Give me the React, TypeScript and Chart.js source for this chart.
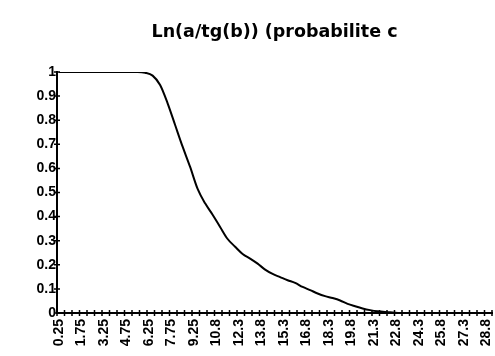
import React, { useEffect, useRef } from "react";
import { Chart, registerables } from "chart.js";

Chart.register(...registerables);

const titleText = "Ln(a/tg(b)) (probabilite c";

const xValues = [
  0.25, 5.5, 6.0, 6.5, 7.0, 7.5, 8.0, 8.5, 9.0, 9.5, 10.0, 10.5, 11.0, 11.5,
  12.0, 12.5, 13.0, 13.5, 14.0, 14.5, 15.0, 15.5, 16.0, 16.5, 17.0, 17.5, 18.0,
  18.5, 19.0, 19.5, 20.0, 20.5, 21.0, 21.5, 22.0, 22.5, 23.0, 29.0,
];
const yValues = [
  1, 1, 0.997, 0.985, 0.946, 0.87, 0.78, 0.69, 0.606, 0.515, 0.455, 0.408,
  0.357, 0.307, 0.275, 0.245, 0.226, 0.205, 0.18, 0.162, 0.149, 0.136, 0.125,
  0.108, 0.095, 0.081, 0.07, 0.062, 0.052, 0.038, 0.028, 0.019, 0.012, 0.007,
  0.004, 0.002, 0, 0,
];

const xTickValues = [
  0.25, 1.75, 3.25, 4.75, 6.25, 7.75, 9.25, 10.75, 12.25, 13.75, 15.25, 16.75,
  18.25, 19.75, 21.25, 22.75, 24.25, 25.75, 27.25, 28.75,
];
const xTickLabels = [
  "0.25", "1.75", "3.25", "4.75", "6.25", "7.75", "9.25", "10.8", "12.3",
  "13.8", "15.3", "16.8", "18.3", "19.8", "21.3", "22.8", "24.3", "25.8",
  "27.3", "28.8",
];
const yTickValues = [0, 0.1, 0.2, 0.3, 0.4, 0.5, 0.6, 0.7, 0.8, 0.9, 1];
const yTickLabels = ["0", "0.1", "0.2", "0.3", "0.4", "0.5", "0.6", "0.7", "0.8", "0.9", "1"];

const xMin = 0.125;
const xMax = 29.125;
const xMarkStep = 0.5;

const tickFont = { family: "'Liberation Sans', Arial, sans-serif", weight: "bold" as const, size: 14 };

const crossTicks = {
  id: "crossTicks",
  afterDraw(chart: any) {
    const { ctx, scales } = chart;
    const x = scales.x;
    const y = scales.y;
    const axisX = x.left;
    const axisY = y.bottom;
    ctx.save();
    ctx.strokeStyle = "#000";
    ctx.lineWidth = 1.5;
    ctx.beginPath();
    for (const v of yTickValues) {
      const py = y.getPixelForValue(v);
      ctx.moveTo(axisX - 3, py);
      ctx.lineTo(axisX + 3, py);
    }
    for (let v = xMin; v <= xMax + 1e-9; v += xMarkStep) {
      const px = x.getPixelForValue(v);
      ctx.moveTo(px, axisY - 3);
      ctx.lineTo(px, axisY + 3);
    }
    ctx.stroke();
    ctx.restore();
  },
};

export default function App() {
  const canvasRef = useRef<HTMLCanvasElement | null>(null);

  useEffect(() => {
    if (!canvasRef.current) return;
    const chart = new Chart(canvasRef.current, {
      type: "line",
      data: {
        datasets: [
          {
            data: xValues.map((x, i) => ({ x, y: yValues[i] })),
            borderColor: "#000",
            borderWidth: 2,
            pointRadius: 0,
            fill: false,
            cubicInterpolationMode: "monotone",
          },
        ],
      },
      options: {
        animation: false,
        responsive: true,
        maintainAspectRatio: false,
        layout: { padding: { left: 0, right: 3, top: 0, bottom: 0 } },
        plugins: {
          legend: { display: false },
          tooltip: { enabled: false },
          title: {
            display: true,
            text: titleText,
            fullSize: false,
            color: "#000",
            font: { family: "'DejaVu Sans', sans-serif", weight: "bold", size: 17.5 },
            padding: { top: 22, bottom: 29 },
          },
        },
        scales: {
          x: {
            type: "linear",
            min: xMin,
            max: xMax,
            grid: { display: false, drawTicks: false, tickLength: 0 },
            border: { display: true, color: "#000", width: 2 },
            ticks: {
              autoSkip: false,
              maxRotation: 90,
              minRotation: 90,
              padding: 6,
              color: "#000",
              font: tickFont,
              callback: (_v: any, i: number) => xTickLabels[i],
            },
            afterBuildTicks: (s: any) => {
              s.ticks = xTickValues.map((v) => ({ value: v }));
            },
            afterFit: (s: any) => {
              s.height = 43;
              s.paddingLeft = 0;
              s.paddingRight = 0;
            },
          },
          y: {
            min: 0,
            max: 1,
            grid: { display: false, drawTicks: false, tickLength: 0 },
            border: { display: true, color: "#000", width: 2 },
            ticks: {
              padding: 1,
              color: "#000",
              font: tickFont,
              callback: (_v: any, i: number) => yTickLabels[i],
            },
            afterBuildTicks: (s: any) => {
              s.ticks = yTickValues.map((v) => ({ value: v }));
            },
            afterFit: (s: any) => {
              s.width = 57;
              s.paddingTop = 0;
              s.paddingBottom = 0;
            },
          },
        },
      },
      plugins: [crossTicks],
    } as any);
    return () => chart.destroy();
  }, []);

  return (
    <div style={{ position: "absolute", left: 0, top: 0, width: 495, height: 356, background: "#fff" }}>
      <canvas ref={canvasRef} />
    </div>
  );
}
